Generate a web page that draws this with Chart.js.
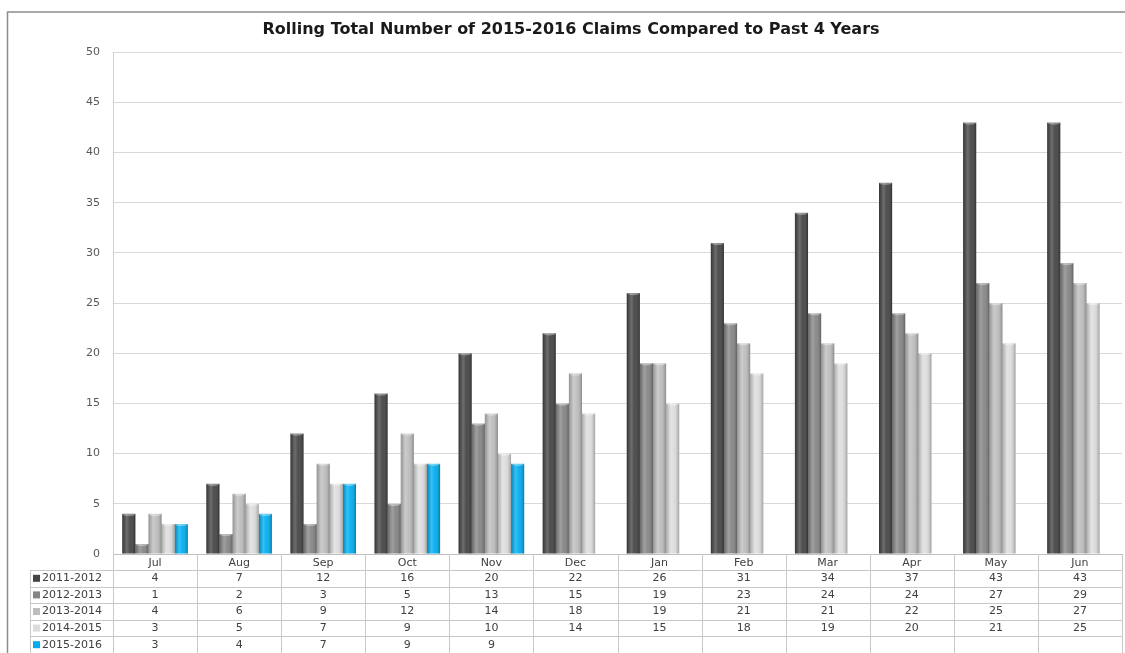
<!DOCTYPE html>
<html><head><meta charset="utf-8">
<script src="https://cdn.jsdelivr.net/npm/chart.js@4.4.1/dist/chart.umd.min.js"></script>
<style>html,body{margin:0;padding:0;background:#fff;overflow:hidden}canvas{display:block}</style>
</head><body>
<canvas id="c" width="1125" height="653"></canvas>
<script>
const categories = ['Jul','Aug','Sep','Oct','Nov','Dec','Jan','Feb','Mar','Apr','May','Jun'];
const seriesNames = ['2011-2012','2012-2013','2013-2014','2014-2015','2015-2016'];
const s2011_2012 = [4,7,12,16,20,22,26,31,34,37,43,43];
const s2012_2013 = [1,2,3,5,13,15,19,23,24,24,27,29];
const s2013_2014 = [4,6,9,12,14,18,19,21,21,22,25,27];
const s2014_2015 = [3,5,7,9,10,14,15,18,19,20,21,25];
const s2015_2016 = [3,4,7,9,9,null,null,null,null,null,null,null];
const yTicks = [0,5,10,15,20,25,30,35,40,45,50];
const titleText = 'Rolling Total Number of 2015-2016 Claims Compared to Past 4 Years';

const seriesValues = [s2011_2012, s2012_2013, s2013_2014, s2014_2015, s2015_2016];
const seriesColors = ['#444444','#858585','#bdbdbd','#dcdcdc','#00adef'];
const FONT = '"DejaVu Sans", sans-serif';

const framePlugin = {
  id: 'frame',
  beforeDraw(chart) {
    const ctx = chart.ctx;
    ctx.save();
    ctx.fillStyle = '#fff';
    ctx.fillRect(0, 0, chart.width, chart.height);
    ctx.strokeStyle = '#8c8c8c';
    ctx.lineWidth = 1.5;
    ctx.strokeRect(7.5, 12, chart.width + 20, chart.height + 20);
    ctx.restore();
  }
};

const cylinderPlugin = {
  id: 'cylinder',
  afterDatasetsDraw(chart) {
    const ctx = chart.ctx;
    ctx.save();
    chart.data.datasets.forEach((ds, di) => {
      const meta = chart.getDatasetMeta(di);
      meta.data.forEach((bar, i) => {
        if (ds.data[i] === null || ds.data[i] === undefined) return;
        const w = bar.width, x0 = bar.x - w / 2, top = bar.y, h = bar.base - bar.y;
        const g = ctx.createLinearGradient(x0, 0, x0 + w, 0);
        g.addColorStop(0, 'rgba(0,0,0,0.22)');
        g.addColorStop(0.35, 'rgba(255,255,255,0.22)');
        g.addColorStop(0.6, 'rgba(255,255,255,0.05)');
        g.addColorStop(1, 'rgba(0,0,0,0.28)');
        ctx.fillStyle = g;
        ctx.fillRect(x0, top, w, h);
        ctx.beginPath();
        ctx.ellipse(bar.x, top, w / 2, 2.2, 0, 0, Math.PI * 2);
        ctx.fillStyle = 'rgba(255,255,255,0.35)';
        ctx.fill();
      });
    });
    ctx.restore();
  }
};

const tablePlugin = {
  id: 'datatable',
  afterDraw(chart) {
    const ctx = chart.ctx;
    const xs = chart.scales.x;
    const area = chart.chartArea;
    const catW = (area.right - area.left) / categories.length;
    const monthRowH = 16;
    const rowH = 16.6;
    const tableLeft = 30;
    const rowsTop = area.bottom + monthRowH;
    ctx.save();
    ctx.strokeStyle = '#c8c8c8';
    ctx.lineWidth = 1;
    for (let r = 0; r <= seriesNames.length; r++) {
      const y = Math.round(rowsTop + r * rowH) + 0.5;
      ctx.beginPath(); ctx.moveTo(tableLeft, y); ctx.lineTo(area.right, y); ctx.stroke();
    }
    for (let i = 0; i <= categories.length; i++) {
      const x = Math.round(xs.getPixelForValue(0) - catW / 2 + i * catW) + 0.5;
      ctx.beginPath(); ctx.moveTo(x, area.bottom); ctx.lineTo(x, chart.height); ctx.stroke();
    }
    ctx.beginPath(); ctx.moveTo(tableLeft + 0.5, rowsTop); ctx.lineTo(tableLeft + 0.5, chart.height); ctx.stroke();
    ctx.font = '11px ' + FONT;
    ctx.textBaseline = 'middle';
    seriesNames.forEach((name, r) => {
      const cy = rowsTop + r * rowH + rowH / 2;
      ctx.fillStyle = seriesColors[r];
      ctx.fillRect(tableLeft + 3, cy - 3.5, 7, 7);
      ctx.fillStyle = '#404040';
      ctx.textAlign = 'left';
      ctx.fillText(name, tableLeft + 12, cy);
      ctx.textAlign = 'center';
      seriesValues[r].forEach((v, i) => {
        if (v === null) return;
        ctx.fillText(String(v), xs.getPixelForValue(i), cy);
      });
    });
    ctx.restore();
  }
};

new Chart(document.getElementById('c'), {
  type: 'bar',
  data: {
    labels: categories,
    datasets: seriesNames.map((n, k) => ({
      label: n,
      data: seriesValues[k],
      backgroundColor: seriesColors[k],
      borderWidth: 0,
      barPercentage: 1.0,
      categoryPercentage: 0.78
    }))
  },
  options: {
    responsive: false,
    animation: false,
    devicePixelRatio: 1,
    layout: { padding: { left: 20, right: 3, top: 0, bottom: 0 } },
    plugins: {
      legend: { display: false },
      tooltip: { enabled: false },
      title: {
        display: true,
        text: titleText,
        color: '#1a1a1a',
        font: { family: FONT, size: 16, weight: 'bold', lineHeight: 1.2 },
        padding: { top: 20, bottom: 13 }
      }
    },
    scales: {
      x: {
        grid: { display: false, drawTicks: false },
        border: { display: true, color: '#bfbfbf' },
        ticks: { color: '#404040', font: { family: FONT, size: 11 }, padding: 3, maxRotation: 0 },
        afterFit(scale) { scale.height = 99; }
      },
      y: {
        min: 0, max: 50,
        afterBuildTicks(scale) { scale.ticks = yTicks.map(v => ({ value: v })); },
        grid: { color: '#d9d9d9', drawTicks: false },
        border: { display: true, color: '#d0d0d0' },
        ticks: { color: '#595959', font: { family: FONT, size: 11 }, padding: 13 },
        afterFit(scale) { scale.width = 93; }
      }
    }
  },
  plugins: [framePlugin, cylinderPlugin, tablePlugin]
});
</script>
</body></html>
